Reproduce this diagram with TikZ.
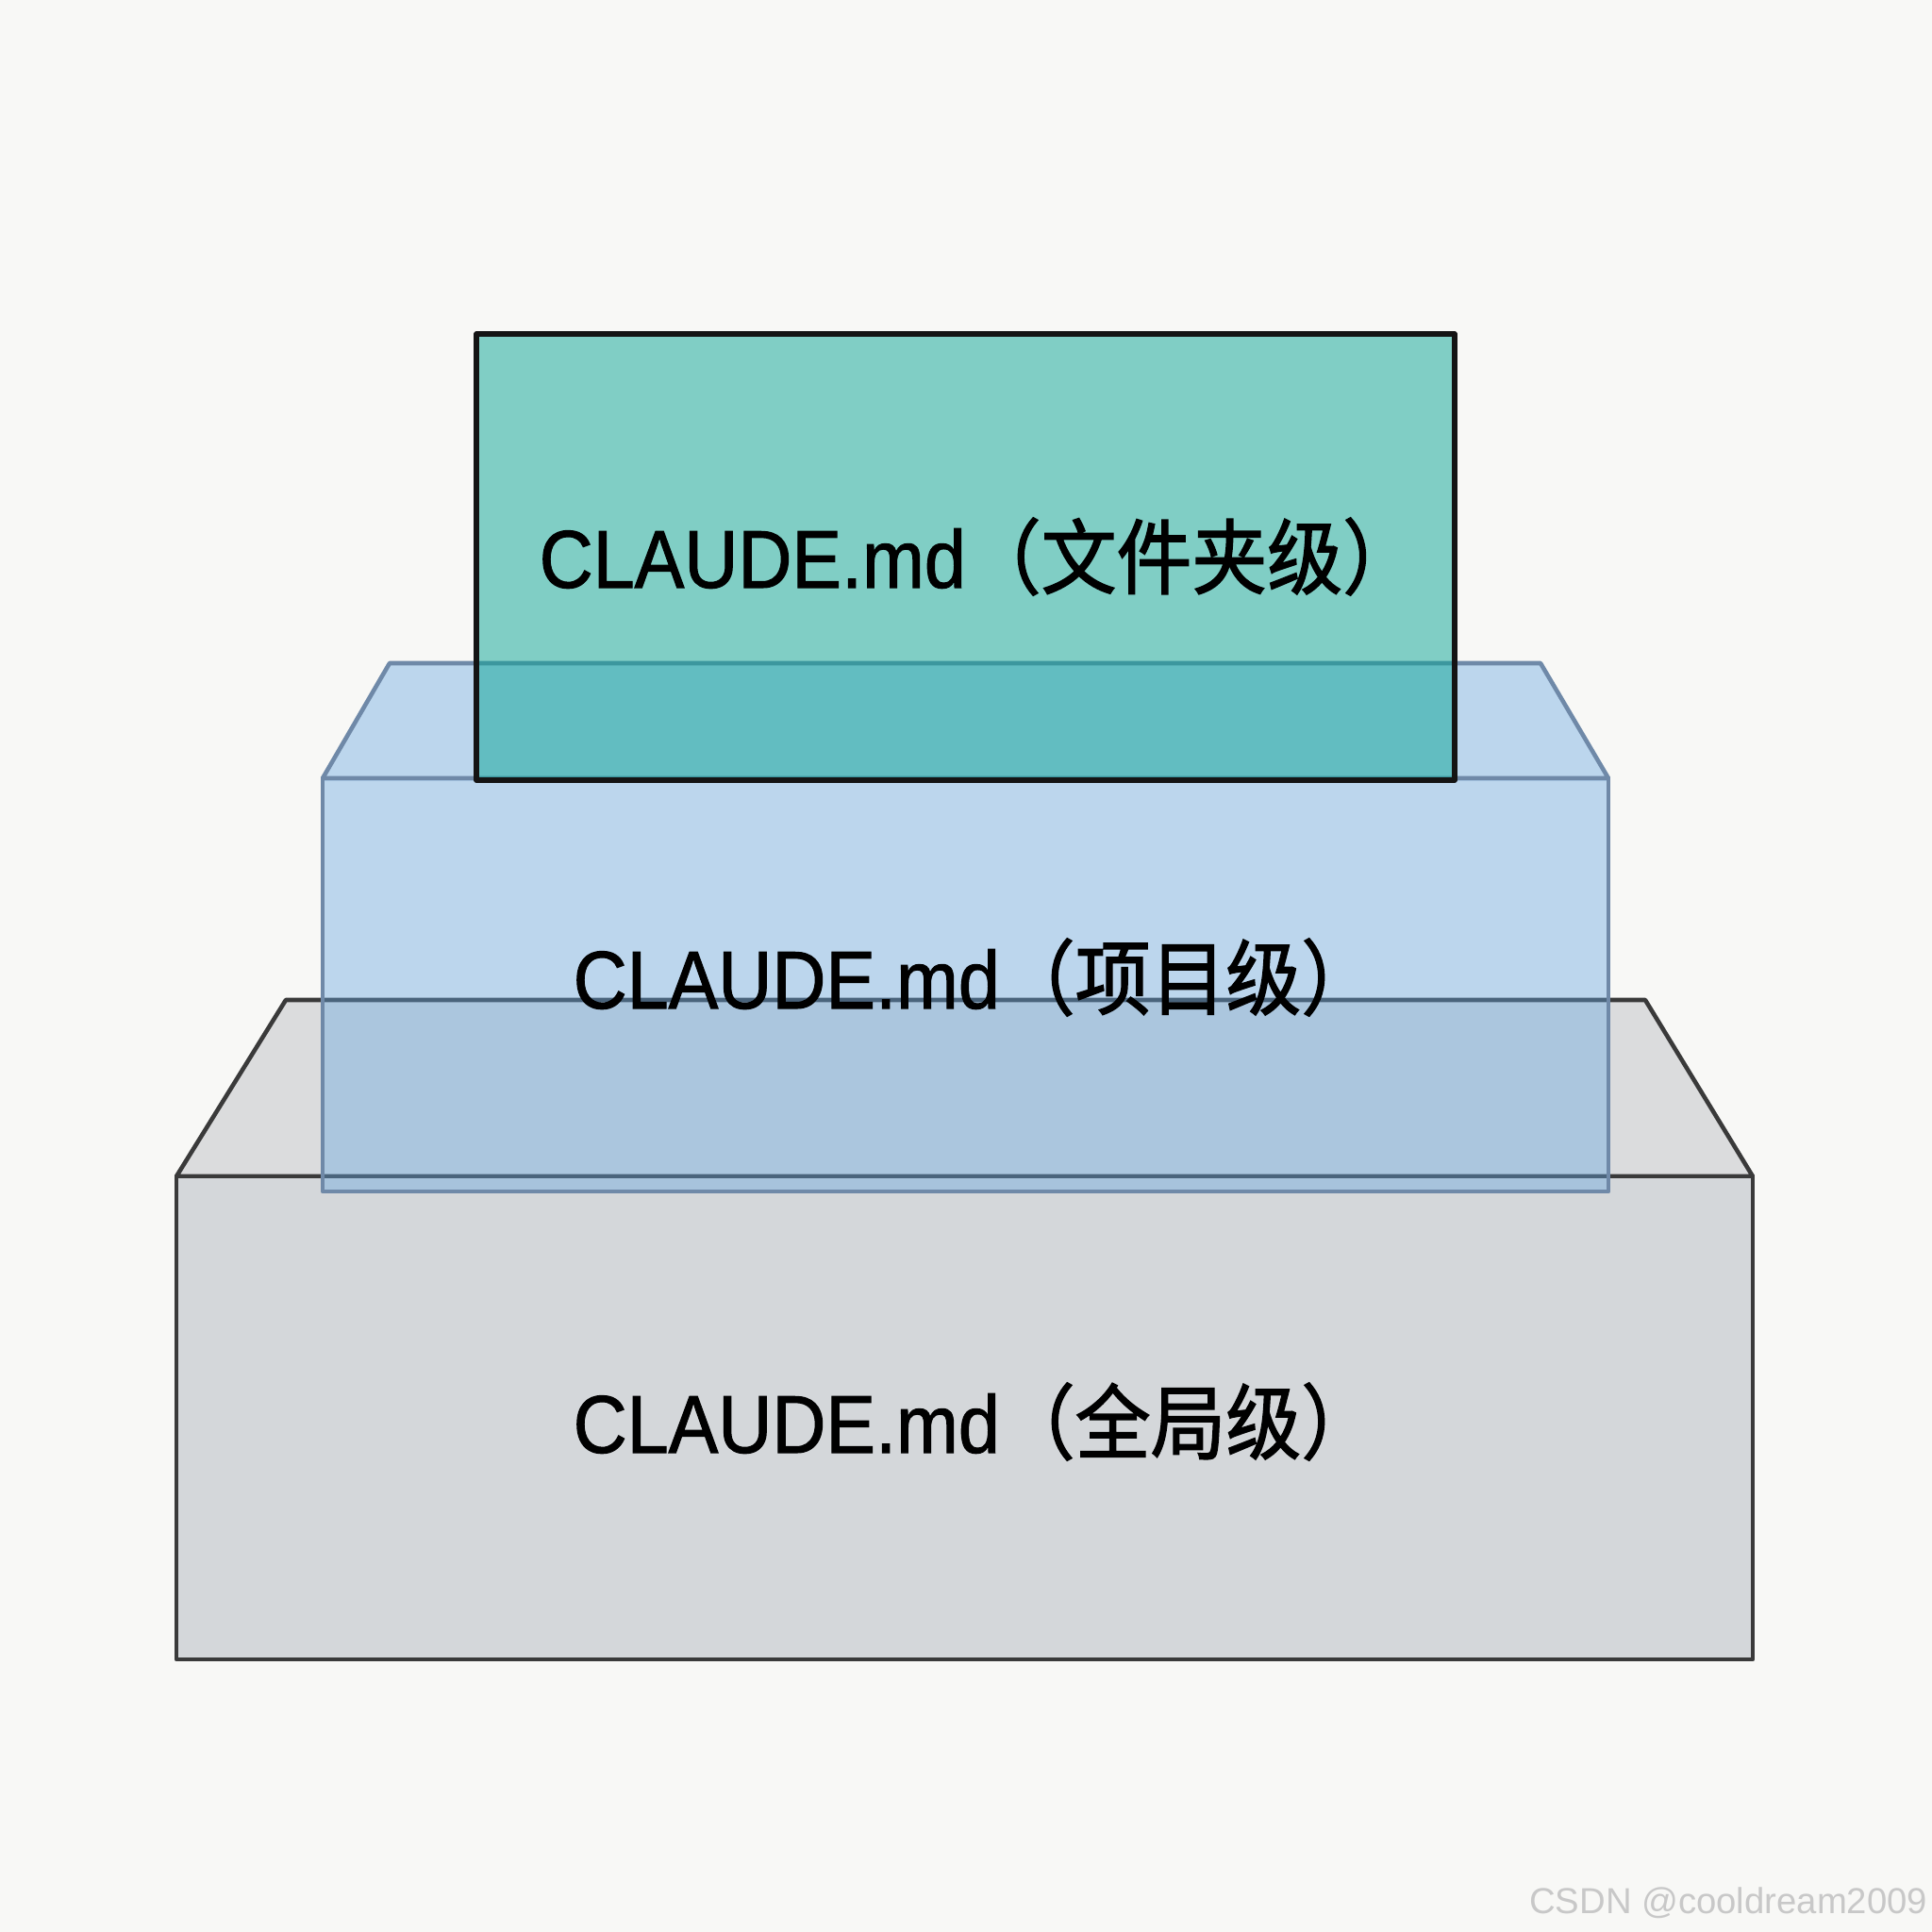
\documentclass[tikz,border=0pt]{standalone}
\usepackage{fontspec}
\setmainfont{Liberation Sans}
\newfontfamily\labelfont[FakeStretch=0.91,FakeBold=1.2]{Liberation Sans}
\newfontfamily\labelcjk[FakeStretch=0.92,FakeBold=1.6]{Noto Sans CJK SC}
\usetikzlibrary{calc}
\definecolor{paperbg}{HTML}{F8F8F6}
\definecolor{globalFill}{HTML}{D4D7DA}
\definecolor{globalTop}{HTML}{DBDCDD}
\definecolor{globalEdge}{HTML}{3A3A3A}
\definecolor{projectFill}{RGB}{100,165,225}
\definecolor{projectEdge}{HTML}{6F89A8}
\definecolor{folderFill}{RGB}{10,165,150}
\definecolor{folderEdge}{HTML}{141414}
\definecolor{markGray}{HTML}{C8C8C8}
\tikzset{
	tierbox/.style={line join=round, line width=1.3pt},
	tierGlobal/.style={tierbox, draw=globalEdge, fill=globalFill},
	tierGlobalTop/.style={tierbox, draw=globalEdge, fill=globalTop},
	tierProject/.style={tierbox, draw=projectEdge, fill=projectFill, fill opacity=0.4},
	tierFolder/.style={tierbox, draw=folderEdge, fill=folderFill, fill opacity=0.5, line width=1.6pt},
	tierLabel/.style={anchor=base west, inner sep=0pt, text=black, font=\fontsize{24.7pt}{30pt}\selectfont},
	watermark/.style={anchor=base east, inner sep=0pt, text=markGray, font=\fontsize{10.9pt}{13pt}\selectfont}
}
\begin{document}
\begin{tikzpicture}

	% Page
	\fill[paperbg] (0,0) rectangle (20.48,20.48);
	\useasboundingbox (0,0) rectangle (20.48,20.48);

	% Global tier
	\draw[tierGlobalTop] (1.87,8.01) -- (3.03,9.88) -- (17.44,9.88) -- (18.58,8.01) -- cycle;
	\draw[tierGlobal] (1.87,2.89) rectangle (18.58,8.01);

	% Project tier
	\draw[tierProject] (3.42,12.23) -- (4.13,13.45) -- (16.33,13.45) -- (17.05,12.23) -- cycle;
	\draw[tierProject] (3.42,7.85) rectangle (17.05,12.23);

	% Folder tier
	\draw[tierFolder] (5.05,12.21) rectangle (15.42,16.94);

	% Labels
	\node[tierLabel] (folderLabel) at (5.71,14.25) {\labelfont CLAUDE.md\labelcjk （文件夹级）};
	\node[tierLabel] (projectLabel) at (6.07,9.79) {\labelfont CLAUDE.md\labelcjk （项目级）};
	\node[tierLabel] (globalLabel) at (6.07,5.08) {\labelfont CLAUDE.md\labelcjk （全局级）};

	% Watermark
	\node[watermark] (mark) at (20.44,0.19) {CSDN @cooldream2009};

\end{tikzpicture}
\end{document}
